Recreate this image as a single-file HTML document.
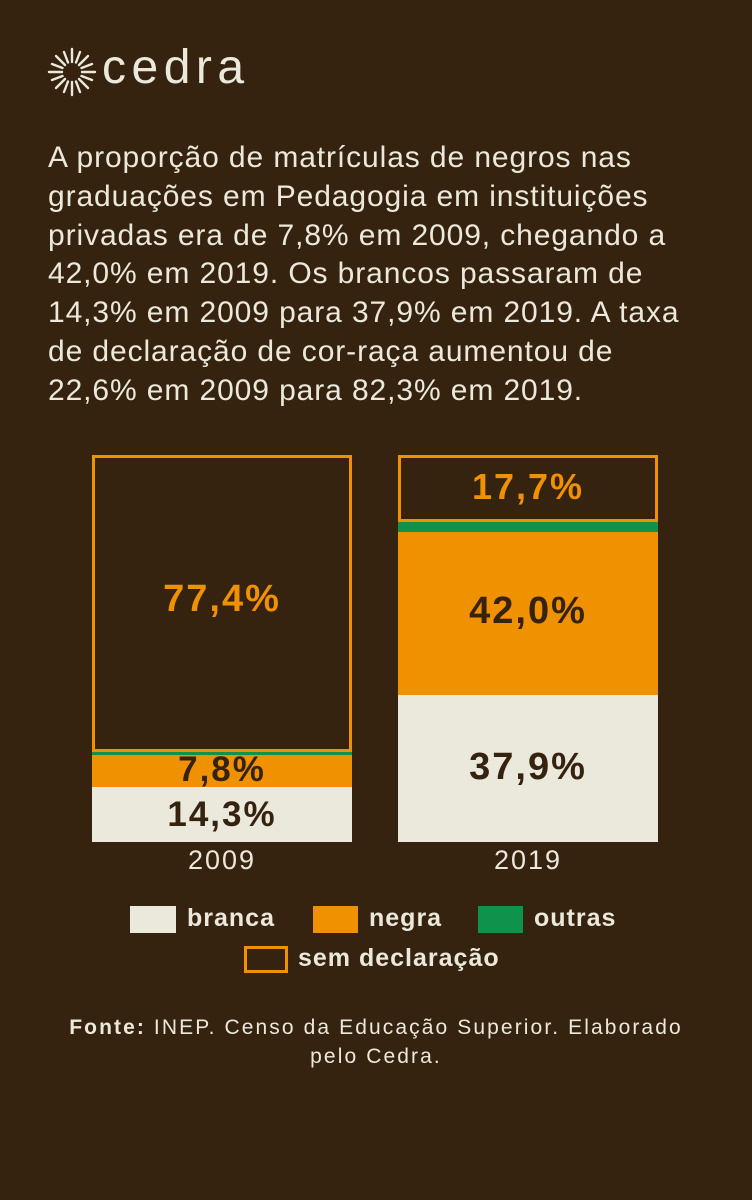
<!DOCTYPE html>
<html><head><meta charset="utf-8"><style>
body{margin:0;width:752px;height:1200px;background:#36230f;position:relative;overflow:hidden;font-family:"Liberation Sans",sans-serif;color:#ebe8dc}
.a{position:absolute}
.t{left:48px;top:139px;font-size:30px;line-height:38.8px;width:720px;letter-spacing:0.9px;white-space:nowrap}
.lbl{position:absolute;left:0;right:0;text-align:center;font-weight:bold;font-size:38px;letter-spacing:2px}
.leg{position:absolute;font-weight:bold;font-size:25px;letter-spacing:1px}
</style></head><body>
<svg class="a" style="left:46px;top:46px" width="52" height="52" viewBox="-26 -26 52 52">
<g stroke="#ebe8dc" stroke-width="2.4" stroke-linecap="round">
<line x1="0" y1="-10" x2="0" y2="-23"/><line x1="0" y1="10" x2="0" y2="23"/>
<line x1="-10" y1="0" x2="-23" y2="0"/><line x1="10" y1="0" x2="23" y2="0"/>
<line x1="7" y1="-7" x2="16" y2="-16"/><line x1="-7" y1="-7" x2="-16" y2="-16"/>
<line x1="7" y1="7" x2="16" y2="16"/><line x1="-7" y1="7" x2="-16" y2="16"/>
<line x1="4" y1="-9.5" x2="8" y2="-20"/><line x1="-4" y1="-9.5" x2="-8" y2="-20"/>
<line x1="4" y1="9.5" x2="8" y2="20"/><line x1="-4" y1="9.5" x2="-8" y2="20"/>
<line x1="9.5" y1="-4" x2="20" y2="-8"/><line x1="-9.5" y1="-4" x2="-20" y2="-8"/>
<line x1="9.5" y1="4" x2="20" y2="8"/><line x1="-9.5" y1="4" x2="-20" y2="8"/>
</g></svg>
<div class="a" style="left:102px;top:40px;font-size:48px;line-height:56px;letter-spacing:5.5px">cedra</div>
<div class="a t">A proporção de matrículas de negros nas<br>graduações em Pedagogia em instituições<br>privadas era de 7,8% em 2009, chegando a<br>42,0% em 2019. Os brancos passaram de<br>14,3% em 2009 para 37,9% em 2019. A taxa<br>de declaração de cor-raça aumentou de<br>22,6% em 2009 para 82,3% em 2019.</div>

<div class="a" style="left:92px;top:787px;width:260px;height:55px;background:#ebe8dc"></div>
<div class="a" style="left:92px;top:755px;width:260px;height:32px;background:#f09102"></div>
<div class="a" style="left:92px;top:752px;width:260px;height:3px;background:#0f924a"></div>
<div class="a" style="left:92px;top:455px;width:254px;height:291px;border:3px solid #f09102"></div>
<div class="lbl" style="left:92px;width:260px;top:578px;color:#f09102">77,4%</div>
<div class="lbl" style="left:92px;width:260px;top:750px;color:#36230f;font-size:35px">7,8%</div>
<div class="lbl" style="left:92px;width:260px;top:795px;color:#36230f;font-size:35px">14,3%</div>

<div class="a" style="left:398px;top:695px;width:260px;height:147px;background:#ebe8dc"></div>
<div class="a" style="left:398px;top:532px;width:260px;height:163px;background:#f09102"></div>
<div class="a" style="left:398px;top:522px;width:260px;height:10px;background:#0f924a"></div>
<div class="a" style="left:398px;top:455px;width:254px;height:61px;border:3px solid #f09102"></div>
<div class="lbl" style="left:398px;width:260px;top:466px;color:#f09102;font-size:36px">17,7%</div>
<div class="lbl" style="left:398px;width:260px;top:590px;color:#36230f">42,0%</div>
<div class="lbl" style="left:398px;width:260px;top:746px;color:#36230f">37,9%</div>

<div class="a" style="left:92px;width:260px;top:845px;text-align:center;font-size:27px;letter-spacing:2px">2009</div>
<div class="a" style="left:398px;width:260px;top:845px;text-align:center;font-size:27px;letter-spacing:2px">2019</div>

<div class="a" style="left:130px;top:906px;width:46px;height:27px;background:#ebe8dc"></div>
<div class="leg" style="left:187px;top:904px">branca</div>
<div class="a" style="left:313px;top:906px;width:45px;height:27px;background:#f09102"></div>
<div class="leg" style="left:369px;top:904px">negra</div>
<div class="a" style="left:478px;top:906px;width:45px;height:27px;background:#0f924a"></div>
<div class="leg" style="left:534px;top:904px">outras</div>
<div class="a" style="left:244px;top:946px;width:38px;height:21px;border:3px solid #f09102"></div>
<div class="leg" style="left:298px;top:944px">sem declaração</div>

<div class="a" style="left:0;width:752px;top:1013px;text-align:center;font-size:21px;line-height:29px;letter-spacing:2.1px"><b>Fonte:</b> INEP. Censo da Educação Superior. Elaborado<br>pelo Cedra.</div>
</body></html>
